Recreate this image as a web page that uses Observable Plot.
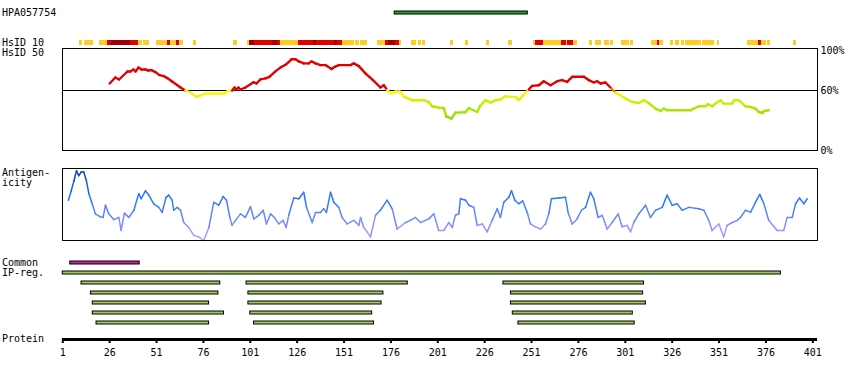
<!DOCTYPE html>
<html><head><meta charset="utf-8">
<script src="https://cdn.jsdelivr.net/npm/d3@7"></script>
<script src="https://cdn.jsdelivr.net/npm/@observablehq/plot@0.6"></script>
<style>
body{margin:0;background:#fff;}
#chart{position:relative;width:850px;height:380px;overflow:hidden;font-family:"DejaVu Sans Mono",monospace;font-size:10px;color:#000;background:#fff;}
#chart .lbl{position:absolute;left:2px;white-space:pre;line-height:10px;font-size:10px;}
</style></head><body><div id="chart"></div>
<script>
// ---------- data ----------
const antigenName = "HPA057754";
const antigenRange = [178, 249];

// HsID 10 strip: [start, end, level] (1 = low, 2 = high, 3 = very high)
const hsid10 = [
 [9.7,11.5,1],[12.6,17.4,1],[20.6,24.8,1],[24.8,27,2],[27,36.9,3],[36.9,41.4,2],[41.4,43.5,1],
 [44,47.2,1],[51,56.7,1],[56.7,58.4,2],[58.4,61.6,1],[61.6,63.2,2],[63.2,65.3,1],[70.6,72.2,1],
 [92,94.2,1],[99.6,100.4,1],[100.4,103.1,3],[103.1,112.7,2],[112.7,115.4,3],[115.4,117,2],
 [117,126.6,1],[126.6,134.7,2],[134.7,136.3,3],[136.3,145.9,2],[145.9,147.5,3],[147.5,150.2,2],
 [150.2,156.6,1],[157.1,159.2,1],[159.8,163.5,1],[168.8,173.1,1],[173.1,174.7,2],[174.7,178.4,3],
 [178.4,180.6,2],[180.6,181.6,1],[187,189.6,1],[190.7,192.3,1],[192.8,194.4,1],[207.8,209.4,1],
 [215.8,217.4,1],[227,228.6,1],[238.8,240.9,1],[252,253.1,1],[253.1,257.4,2],[257.4,267,1],
 [267,269.6,2],[269.6,270.2,1],[270.2,273.4,2],[273.4,275.5,1],[281.9,283.5,1],[285.1,288.3,1],
 [289.9,292.6,1],[293.1,294.7,1],[299,303.2,1],[303.8,305.4,1],[314.9,318.1,1],[318.1,319.2,2],
 [319.2,321.3,1],[325.1,326.7,1],[327.7,329.9,1],[330.9,332.6,1],[333.1,341.6,1],[342.2,348.6,1],
 [350.2,351.3,1],[366.2,372.1,1],[372.1,373.7,2],[373.7,376.4,1],[376.9,378.6,1],[390.8,392.4,1]
];

// HsID 50 similarity: [residue, percent]
const similarity = [
 [26,67],[29,73],[31,71],[35.5,79],[37,79],[38.7,81],[39.8,79],[41.4,83],[43,81],[45,81],[46.7,80],
 [48.3,80.4],[50.4,78.4],[52.6,75.4],[54.9,74.4],[56.7,72.4],[59.3,69],[63.8,63],[66.4,60],[69.1,58],
 [72.3,53.6],[74.4,55],[77.1,57],[87.2,57],[88.7,59],[91.3,60],[92.6,63],[93.6,61],[94.7,63],[95.7,61],
 [98.4,63],[102.7,68.3],[104.3,67],[106.4,71.1],[109.1,72.1],[111.2,73.7],[114.4,79.1],[117.2,83.1],
 [119.8,85.7],[123,91.2],[125.1,91.2],[126.9,89.1],[129.5,87.1],[132.2,87.1],[133.6,89.1],[135.8,87.1],
 [138.4,85.4],[141.1,85.4],[144.3,81.4],[146.1,83.7],[148.2,85.4],[154.4,85.4],[156.2,87.1],[158.9,84.4],
 [162.4,77.1],[166,71.1],[170.4,63],[172.2,65.3],[174,60.3],[176.1,57],[178.4,59],[180.7,59],[183.2,53.6],
 [187.3,50.3],[190.9,50.3],[193.5,50.3],[196.2,48.5],[198,44.2],[201.5,42.9],[204.2,42.5],[205.5,34.2],
 [208.3,31.9],[210.4,37.9],[215.8,38.2],[217.5,42.5],[222,38.5],[223.8,45.2],[226.4,50.3],[229.1,47.9],
 [231.8,50.3],[234.4,51],[237.1,54.3],[239.8,53.6],[242.4,53.6],[244.2,50.3],[246.9,56],[249.5,61],
 [251.3,64.6],[254.9,65.3],[257.5,69.3],[261.1,65.3],[264.7,69.3],[267.3,70.4],[270,68.6],[272.7,73.7],
 [278.9,73.7],[281.5,70.4],[284.2,68],[286,69.3],[287.8,67],[290.4,68],[293.6,62],[295.8,58],[301.1,52],
 [304.7,48.5],[308.2,47.5],[310.9,50.3],[313.5,47.5],[317.1,41.9],[319.8,39.5],[321.5,41.9],[323.3,40.2],
 [335.8,40.2],[337.5,41.9],[340.2,44.2],[343.8,44.2],[345.2,46.2],[347.3,44.2],[349.1,46.9],[351.8,50.3],
 [353.5,46.9],[358,46.9],[358.9,50.3],[361.5,50.3],[365.1,44.2],[367.8,43.5],[370.4,41.9],[372.2,38.5],
 [374.3,37.5],[374.9,39.5],[377.5,40.2]
];

// Antigenicity (relative units 0-100): [residue, value]
const antigenicity = [
 [4,56],[5.5,69],[7,83],[8.3,97],[9.5,90],[10.8,95],[12.2,95],[13.6,83],[14.9,65],[16.7,51],[18.4,37],
 [21,33],[22.5,32],[23.8,49],[25.5,37],[28.2,29],[30.9,32],[32.1,14],[33.9,38],[36.2,32],[38.9,42],
 [41.5,65],[42.8,58],[45.1,69],[46.9,63],[49.5,51],[52.2,46],[54,39],[56.1,60],[57.5,63],[59.3,56],
 [60.2,42],[62,46],[63.8,42],[65.5,25],[68.2,18],[70.9,7],[73.5,5],[76.2,0],[78.9,18],[81.5,53],
 [84.2,49],[86.5,61],[88.3,56],[90.1,32],[91.3,21],[93.1,28],[95.8,37],[98.4,32],[101.1,47],[102.9,30],
 [105.5,35],[107.9,42],[109.6,23],[111.8,37],[113.9,32],[116.2,23],[118.5,28],[120.1,18],[121.5,35],
 [124.2,59],[126.9,58],[129.5,67],[131,46],[134,25],[135.8,39],[138.4,39],[140.2,44],[141.6,39],
 [143.8,67],[145.5,53],[148.2,46],[150,32],[152.7,23],[156.2,28],[158.9,21],[159.8,32],[161.5,18],
 [163.3,12],[165.1,5],[167.8,35],[170.4,42],[174,56],[176.7,44],[179.3,16],[183.8,25],[186.4,28],
 [189.1,32],[191.8,25],[194.4,28],[196.2,30],[198.9,37],[201.5,14],[204.2,14],[206.9,25],[208.7,18],
 [210.4,35],[212.2,37],[213.1,58],[215.8,56],[217.5,49],[220.2,46],[222,21],[224.7,23],[227.3,12],
 [230,28],[232.7,44],[234.4,32],[236.2,53],[238.9,60],[240.3,69],[242.1,56],[244.2,51],[246.3,55],
 [248.7,39],[250.4,23],[253.1,19],[255.8,16],[258.4,23],[260.2,37],[261.6,58],[265.5,59],[269.1,60],
 [270.5,39],[272.7,23],[275.3,30],[277.6,42],[279.8,46],[282.4,67],[284.2,58],[286.5,32],[288.7,35],
 [291.3,16],[294,25],[297.2,37],[299.3,19],[302,21],[303.8,12],[305.5,25],[308.2,37],[311.8,49],
 [314.4,32],[317.1,42],[320.7,46],[323.3,63],[326,49],[328.7,51],[331.3,42],[334.9,46],[340.2,44],
 [342.9,42],[345.5,28],[347.3,14],[350.9,23],[353.5,5],[355.3,21],[358,25],[360.7,28],[362.4,32],
 [365.1,42],[367.8,39],[370.4,53],[372.7,64],[374.9,51],[377.5,28],[382,14],[385.5,14],[387.3,32],
 [390,32],[391.8,51],[393.9,59],[396.2,51],[398,58]
];

// Common region and IP-regions: [row, start, end]
const commonRegion = [["Common", 5, 42]];
const ipRegions = [
 ["IP-reg",1,384],
 ["1",11,85],["1",99,185],["1",236,311],
 ["2",16,84],["2",100,172],["2",240,310.5],
 ["3",17,79],["3",100,171],["3",240,312],
 ["4",17,87],["4",101,166],["4",241,305],
 ["5",19,79],["5",103,167],["5",244,306]
];
const featureRows = ["Common","IP-reg","1","2","3","4","5"];
const proteinTicks = [1,26,51,76,101,126,151,176,201,226,251,276,301,326,351,376,401];
const pctTicks = [0,60,100];

// ---------- drawing ----------
const chart = document.getElementById("chart");
const W = 850, ML = 62, MR = 33;
const xDomain = [0.85, 403.5];
const baseStyle = top => `position:absolute;left:0;top:${top}px;background:transparent;overflow:visible;font-family:'DejaVu Sans Mono',monospace;font-size:10px;`;
function place(top, opts) {
  const {x = {}, ...rest} = opts;
  const svg = Plot.plot({width: W, marginLeft: ML, marginRight: MR, style: baseStyle(top), ...rest,
    x: {domain: xDomain, axis: null, ...x}});
  chart.appendChild(svg);
}
function label(text, top) {
  const d = document.createElement("div");
  d.className = "lbl"; d.textContent = text; d.style.top = top + "px";
  chart.appendChild(d);
}
const segs = arr => d3.pairs(arr).map(([a, b]) => ({x1: a[0], y1: a[1], x2: b[0], y2: b[1], v: (a[1] + b[1]) / 2}));

// antigen bar
place(11, {height: 3, marginTop: 0, marginBottom: 0,
  marks: [Plot.barX([antigenRange], {x1: d => d[0], x2: d => d[1], fill: "#22a022", stroke: "black", strokeWidth: 1})]});

// HsID 10 strip
place(40, {height: 5, marginTop: 0, marginBottom: 0,
  color: {type: "ordinal", domain: [1, 2, 3], range: ["#ffcc22", "#e00000", "#9c0000"]},
  marks: [Plot.barX(hsid10, {x1: d => d[0], x2: d => d[1], fill: d => d[2], shapeRendering: "crispEdges"})]});

// HsID 50 similarity panel
place(44, {height: 112, marginTop: 4, marginBottom: 6,
  y: {domain: [0, 102], axis: "right", ticks: pctTicks, tickFormat: d => d + "%", tickSize: 0, tickPadding: 3, label: null},
  color: {type: "linear", domain: [30, 40, 50, 56, 59.9, 60.1, 100],
          range: ["#80dc00", "#a6e600", "#d2ee00", "#f4f800", "#ffff00", "#e00000", "#e00000"]},
  marks: [
    Plot.ruleY([60], {stroke: "black", strokeWidth: 1}),
    Plot.link(segs(similarity), {x1: "x1", y1: "y1", x2: "x2", y2: "y2", stroke: "v", strokeWidth: 2.4, strokeLinecap: "round"}),
    Plot.frame({stroke: "black", strokeWidth: 1})
  ]});

// Antigenicity panel
place(166, {height: 76, marginTop: 2, marginBottom: 2,
  y: {domain: [0, 100], axis: null},
  color: {type: "linear", domain: [0, 15, 30, 50, 70, 88, 100],
          range: ["#b0a4ff", "#9a98ff", "#7088ff", "#3a7cff", "#1a6aff", "#0d4cb0", "#073a8c"]},
  marks: [
    Plot.link(segs(antigenicity), {x1: "x1", y1: "y1", x2: "x2", y2: "y2", stroke: "v", strokeWidth: 1.5, strokeLinecap: "round"}),
    Plot.frame({stroke: "black", strokeWidth: 1})
  ]});

// Common + IP regions
place(257, {height: 70, marginTop: 0, marginBottom: 0,
  y: {type: "band", domain: featureRows, paddingInner: 0.7, paddingOuter: 0.35, axis: null},
  color: {type: "ordinal", domain: ["common", "ip"], range: ["#cc2299", "#9fca5e"]},
  marks: [
    Plot.barX(commonRegion.concat(ipRegions), {y: d => d[0], x1: d => d[1], x2: d => d[2],
      fill: d => d[0] === "Common" ? "common" : "ip", stroke: "black", strokeWidth: 1})
  ]});

// Protein axis
place(329, {height: 50, marginTop: 0, marginBottom: 40,
  y: {domain: [0, 1], axis: null},
  x: {axis: "bottom", ticks: proteinTicks, tickFormat: d => String(d), tickSize: 4, tickPadding: 5, label: null},
  marks: [Plot.ruleY([0], {stroke: "black", strokeWidth: 3})]});

// left labels
label(antigenName, 7.5);
label("HsID 10", 37.5);
label("HsID 50", 47.5);
label("Antigen-", 168);
label("icity", 178);
label("Common", 257.5);
label("IP-reg.", 267.5);
label("Protein", 334);
</script>
<style>
#chart svg g[aria-label="x-axis tick"] path, #chart svg .tick line{stroke-width:2px;}
</style>
</body></html>
